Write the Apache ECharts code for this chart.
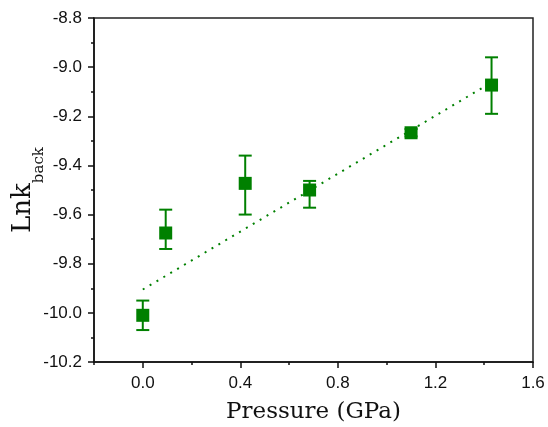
<!DOCTYPE html>
<html>
<head>
<meta charset="utf-8">
<script src="https://cdn.jsdelivr.net/npm/echarts@6/dist/echarts.min.js"></script>
<style>
  html, body { margin: 0; padding: 0; background: #fff; }
  #chart { width: 548px; height: 427px; }
</style>
</head>
<body>
<div id="chart"></div>
<script>
// measured points (pressure in GPa, ln k_back) with error bar ends
const pressure = [0.0, 0.094, 0.42, 0.684, 1.10, 1.43]
const lnk = [-10.01, -9.675, -9.473, -9.50, -9.267, -9.073]
const errLow = [-10.07, -9.74, -9.60, -9.572, -9.282, -9.19]
const errHigh = [-9.95, -9.58, -9.36, -9.463, -9.252, -8.96]

// linear fit shown as dotted line
const fitX = [0.0, 1.43]
const fitY = [-9.905, -9.062]

const xMajor = [0, 0.4, 0.8, 1.2, 1.6]
const xMinor = [-0.2, 0.2, 0.6, 1.0, 1.4]

const green = '#008000'
const chart = echarts.init(document.getElementById('chart'))

const barData = pressure.map((p, i) => [p, errLow[i], errHigh[i]])

function renderErrorBar(params, api) {
  const x = api.value(0)
  const lo = api.coord([x, api.value(1)])
  const hi = api.coord([x, api.value(2)])
  const half = 6.5
  const style = { stroke: green, lineWidth: 2 }
  return {
    type: 'group',
    children: [
      { type: 'line', shape: { x1: hi[0], y1: hi[1], x2: lo[0], y2: lo[1] }, style },
      { type: 'line', shape: { x1: hi[0] - half, y1: hi[1], x2: hi[0] + half, y2: hi[1] }, style },
      { type: 'line', shape: { x1: lo[0] - half, y1: lo[1], x2: lo[0] + half, y2: lo[1] }, style }
    ]
  }
}

const labelStyle = {
  fontFamily: 'Liberation Sans',
  fontSize: 17,
  color: '#111'
}

chart.setOption({
  animation: false,
  grid: {
    left: 94,
    right: 15,
    top: 18,
    bottom: 65,
    outerBoundsMode: 'none',
    show: true,
    borderColor: '#222',
    borderWidth: 1.5
  },
  xAxis: [
    {
      type: 'value',
      min: -0.2,
      max: 1.6,
      name: 'Pressure (GPa)',
      nameLocation: 'middle',
      nameGap: 39,
      nameMoveOverlap: false,
      nameTextStyle: { fontFamily: 'DejaVu Serif', fontSize: 23, color: '#111' },
      axisLine: { onZero: false, lineStyle: { color: '#111', width: 1.5 } },
      axisTick: { inside: false, length: 6, customValues: xMajor, lineStyle: { color: '#111', width: 1.5 } },
      axisLabel: { ...labelStyle, margin: 13, customValues: xMajor, formatter: (v) => v.toFixed(1) },
      splitLine: { show: false }
    },
    {
      type: 'value',
      position: 'bottom',
      min: -0.2,
      max: 1.6,
      axisLine: { show: false, onZero: false },
      axisTick: { inside: false, length: 3, customValues: xMinor, lineStyle: { color: '#111', width: 1.5 } },
      axisLabel: { show: false },
      splitLine: { show: false }
    }
  ],
  yAxis: {
    type: 'value',
    min: -10.2,
    max: -8.8,
    interval: 0.2,
    name: '{a|Lnk}{b|back}',
    nameLocation: 'middle',
    nameRotate: 90,
    nameGap: 47,
    nameMoveOverlap: false,
    nameTextStyle: {
      rich: {
        a: { fontFamily: 'DejaVu Serif', fontSize: 26, color: '#111', lineHeight: 30, verticalAlign: 'top' },
        b: { fontFamily: 'DejaVu Serif', fontSize: 15, color: '#111', verticalAlign: 'bottom', padding: [22, 0, 0, 0] }
      }
    },
    axisLine: { onZero: false, lineStyle: { color: '#111', width: 1.5 } },
    axisTick: { inside: false, length: 6, lineStyle: { color: '#111', width: 1.5 } },
    minorTick: { show: true, splitNumber: 2, length: 3, lineStyle: { color: '#111', width: 1.5 } },
    axisLabel: { ...labelStyle, margin: 12, formatter: (v) => v.toFixed(1) },
    splitLine: { show: false }
  },
  series: [
    {
      type: 'line',
      data: fitX.map((x, i) => [x, fitY[i]]),
      showSymbol: false,
      lineStyle: { color: green, width: 2, type: [2, 6] },
      z: 1
    },
    {
      type: 'custom',
      renderItem: renderErrorBar,
      encode: { x: 0, y: [1, 2] },
      data: barData,
      z: 2
    },
    {
      type: 'scatter',
      symbol: 'rect',
      symbolSize: 13,
      itemStyle: { color: green, opacity: 1 },
      data: pressure.map((p, i) => [p, lnk[i]]),
      z: 3
    }
  ]
})
</script>
</body>
</html>
